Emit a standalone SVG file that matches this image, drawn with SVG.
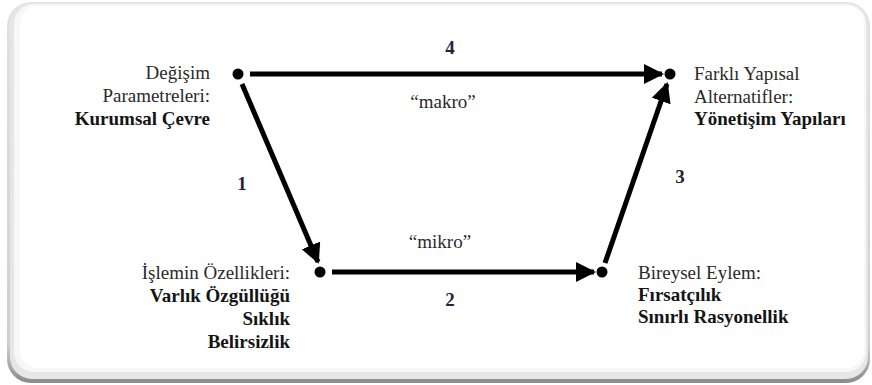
<svg xmlns="http://www.w3.org/2000/svg" width="872" height="385" viewBox="0 0 872 385">
<defs>
<marker id="ah" viewBox="0 0 10 10" refX="9" refY="5" markerWidth="4" markerHeight="4" orient="auto" markerUnits="strokeWidth">
<path d="M0,0 L10,5 L0,10 Z" fill="#000"/>
</marker>
<linearGradient id="fr" x1="0" y1="0" x2="0" y2="1">
<stop offset="0" stop-color="#e2e2e2"/>
<stop offset="0.9" stop-color="#cfcfcf"/>
<stop offset="1" stop-color="#8a8a8a"/>
</linearGradient>
</defs>
<g id="frame">
<rect x="7" y="2" width="863" height="381" rx="24" fill="url(#fr)"/>
<rect x="10" y="3" width="858" height="376" rx="22" fill="#e6e6e6"/>
<rect x="14" y="4" width="852" height="368" rx="20" fill="#f7f7f7"/>
<rect x="20" y="6" width="844" height="362" rx="18" fill="#ffffff"/>
</g>
<g id="connectors" stroke="#000" stroke-width="5" fill="none">
<line x1="250" y1="74" x2="662" y2="74" marker-end="url(#ah)"/>
<line x1="242" y1="84" x2="318" y2="262" marker-end="url(#ah)"/>
<line x1="332" y1="272" x2="594" y2="272" marker-end="url(#ah)"/>
<line x1="605" y1="263" x2="667" y2="84" marker-end="url(#ah)"/>
</g>
<g id="labels" font-family="Liberation Serif" font-size="19" fill="#2a2a2a" text-anchor="middle">
<text x="450" y="54" font-weight="bold" fill="#2a1f38">4</text>
<text x="443" y="108">“makro”</text>
<text x="242" y="190" font-weight="bold" fill="#2a1f38">1</text>
<text x="440" y="248">“mikro”</text>
<text x="450" y="306" font-weight="bold" fill="#2a1f38">2</text>
<text x="680" y="183" font-weight="bold" fill="#2a1f38">3</text>
</g>
<g id="node-degisim" font-family="Liberation Serif" font-size="19" fill="#2a2a2a" text-anchor="end">
<circle cx="238" cy="74" r="5.5" fill="#000"/>
<text x="210" y="79">Değişim</text>
<text x="210" y="102">Parametreleri:</text>
<text x="210" y="125" font-weight="bold" fill="#151515">Kurumsal Çevre</text>
</g>
<g id="node-farkli" font-family="Liberation Serif" font-size="19" fill="#2a2a2a">
<circle cx="670" cy="74" r="5.5" fill="#000"/>
<text x="694" y="80">Farklı Yapısal</text>
<text x="694" y="103">Alternatifler:</text>
<text x="694" y="125" font-weight="bold" fill="#151515">Yönetişim Yapıları</text>
</g>
<g id="node-islemin" font-family="Liberation Serif" font-size="19" fill="#2a2a2a" text-anchor="end">
<circle cx="320" cy="272" r="5.5" fill="#000"/>
<text x="290" y="279">İşlemin Özellikleri:</text>
<text x="290" y="302" font-weight="bold" fill="#151515">Varlık Özgüllüğü</text>
<text x="290" y="325" font-weight="bold" fill="#151515">Sıklık</text>
<text x="290" y="348" font-weight="bold" fill="#151515">Belirsizlik</text>
</g>
<g id="node-bireysel" font-family="Liberation Serif" font-size="19" fill="#2a2a2a">
<circle cx="602" cy="272" r="5.5" fill="#000"/>
<text x="638" y="279">Bireysel Eylem:</text>
<text x="638" y="301" font-weight="bold" fill="#151515">Fırsatçılık</text>
<text x="638" y="323" font-weight="bold" fill="#151515">Sınırlı Rasyonellik</text>
</g>
</svg>
